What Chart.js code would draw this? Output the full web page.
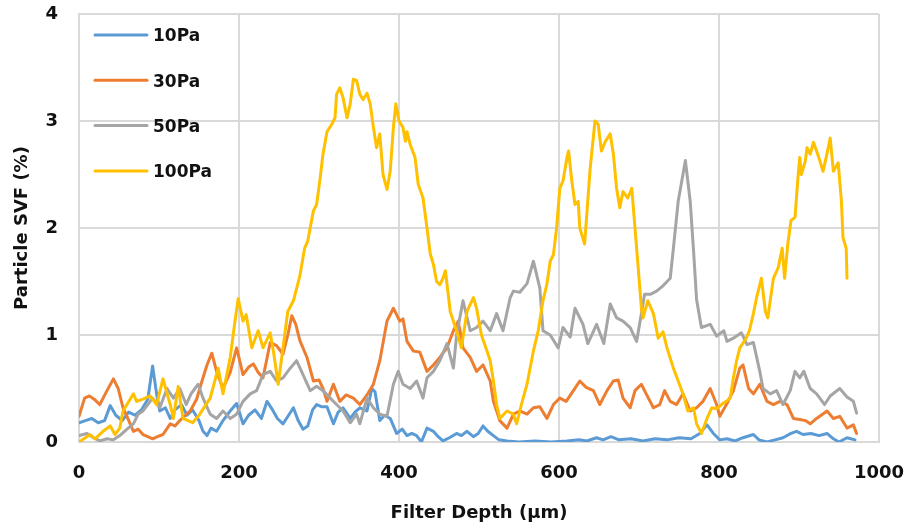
<!DOCTYPE html>
<html><head><meta charset="utf-8">
<script src="https://cdn.jsdelivr.net/npm/chart.js@4"></script>
<style>html,body{margin:0;padding:0;background:#fff;overflow:hidden}#wrap{width:908px;height:529px}</style>
</head><body><div id="wrap"><canvas id="c" width="908" height="529"></canvas></div>
<script>
const xTickStep = 200;
const yTickStep = 1;
const seriesNames = ['10Pa', '30Pa', '50Pa', '100Pa'];
const seriesColors = ['#5B9BD5', '#ED7D31', '#A5A5A5', '#FFC000'];

const depth10 = [0,8,16,24,32,39,46,54,62,70,78,86,92,97,101,108,114,120,128,135,142,150,155,160,165,172,180,190,197,205,212,220,228,235,242,248,255,262,268,274,280,286,292,297,303,310,318,324,330,339,345,351,360,366,370,376,382,389,397,404,410,416,422,428,435,443,449,455,463,472,478,485,493,499,505,511,518,525,535,550,570,590,610,625,635,647,655,665,675,690,705,720,735,750,765,776,785,793,801,810,820,830,843,850,860,870,880,890,897,905,915,925,935,943,950,960,970];
const svf10 = [0.18,0.2,0.22,0.18,0.2,0.34,0.25,0.2,0.28,0.25,0.3,0.4,0.71,0.45,0.29,0.32,0.22,0.3,0.35,0.25,0.3,0.2,0.1,0.06,0.13,0.1,0.2,0.3,0.36,0.17,0.25,0.3,0.22,0.38,0.3,0.22,0.17,0.25,0.32,0.2,0.12,0.15,0.3,0.35,0.33,0.33,0.17,0.28,0.32,0.22,0.28,0.32,0.29,0.5,0.47,0.2,0.25,0.22,0.08,0.12,0.06,0.08,0.06,0.0,0.13,0.1,0.05,0.01,0.04,0.08,0.06,0.1,0.05,0.08,0.15,0.1,0.06,0.02,0.01,0.0,0.01,0.0,0.01,0.02,0.01,0.04,0.02,0.05,0.02,0.03,0.01,0.03,0.02,0.04,0.03,0.08,0.16,0.08,0.02,0.03,0.01,0.04,0.07,0.02,0.0,0.02,0.04,0.08,0.1,0.07,0.08,0.06,0.08,0.03,0.0,0.04,0.02];

const depth30 = [0,7,13,19,26,35,43,49,55,61,68,74,80,86,92,98,105,114,120,126,133,139,147,155,160,166,172,180,189,197,205,212,218,224,230,239,247,255,261,266,271,276,285,293,300,305,310,318,326,334,343,351,360,368,376,385,393,401,405,410,418,426,435,443,451,460,468,474,480,489,497,505,514,518,526,535,543,551,560,568,576,585,593,601,609,618,626,634,643,651,660,668,674,680,689,695,703,709,718,726,732,739,747,755,764,772,780,789,797,801,810,818,826,830,837,843,851,860,868,876,885,893,901,908,914,922,935,943,951,960,968,972];
const svf30 = [0.24,0.41,0.43,0.4,0.35,0.48,0.59,0.5,0.32,0.22,0.1,0.12,0.07,0.05,0.03,0.05,0.07,0.17,0.15,0.2,0.25,0.29,0.4,0.6,0.72,0.83,0.66,0.5,0.65,0.88,0.63,0.7,0.73,0.65,0.6,0.93,0.9,0.82,1.0,1.18,1.1,0.95,0.79,0.57,0.58,0.5,0.38,0.54,0.38,0.44,0.41,0.35,0.44,0.54,0.76,1.13,1.25,1.13,1.15,0.94,0.85,0.84,0.66,0.72,0.79,0.88,1.04,1.13,0.88,0.79,0.66,0.72,0.57,0.38,0.2,0.13,0.26,0.29,0.26,0.32,0.33,0.22,0.35,0.41,0.38,0.48,0.57,0.51,0.48,0.35,0.48,0.57,0.58,0.41,0.32,0.48,0.54,0.45,0.32,0.35,0.48,0.38,0.35,0.45,0.29,0.32,0.38,0.5,0.35,0.24,0.36,0.48,0.69,0.72,0.5,0.45,0.54,0.38,0.35,0.38,0.35,0.22,0.21,0.2,0.17,0.22,0.29,0.22,0.24,0.13,0.16,0.08];

const depth50 = [0,10,18,26,35,43,51,60,68,74,80,86,92,101,110,118,126,134,140,145,149,155,164,172,180,189,197,205,214,222,230,239,247,255,264,272,280,289,297,305,314,322,330,339,347,351,360,368,376,385,393,399,405,414,422,430,435,443,451,460,468,472,480,489,497,505,514,522,530,539,543,551,560,568,576,580,589,599,605,614,620,630,636,647,656,664,672,680,689,697,703,707,714,722,730,739,743,749,758,764,768,772,778,789,797,806,810,818,828,835,843,851,855,864,872,880,889,895,901,906,914,922,932,939,951,960,968,972];
const svf50 = [0.06,0.08,0.04,0.01,0.03,0.02,0.06,0.12,0.17,0.26,0.29,0.35,0.41,0.32,0.5,0.41,0.5,0.35,0.45,0.5,0.54,0.41,0.26,0.22,0.29,0.22,0.26,0.38,0.45,0.48,0.63,0.66,0.57,0.6,0.69,0.76,0.63,0.48,0.52,0.48,0.41,0.35,0.29,0.18,0.26,0.17,0.41,0.32,0.26,0.24,0.54,0.66,0.54,0.5,0.57,0.41,0.6,0.66,0.76,0.92,0.69,1.0,1.32,1.04,1.07,1.13,1.04,1.2,1.04,1.35,1.41,1.4,1.48,1.69,1.44,1.04,1.0,0.88,1.07,0.98,1.25,1.1,0.92,1.1,0.92,1.29,1.16,1.13,1.07,0.94,1.2,1.38,1.38,1.41,1.46,1.53,1.81,2.25,2.63,2.25,1.81,1.33,1.07,1.1,0.99,1.04,0.94,0.97,1.02,0.91,0.93,0.66,0.5,0.45,0.48,0.35,0.48,0.66,0.6,0.66,0.5,0.45,0.35,0.43,0.5,0.42,0.38,0.27];

const depth100 = [0,8,14,20,30,39,45,51,55,60,68,72,80,89,97,105,114,118,124,130,142,151,164,174,180,189,195,199,205,209,216,224,230,239,243,249,255,261,268,276,282,286,293,297,301,305,310,316,320,322,326,330,335,339,343,347,351,355,360,364,368,372,376,380,385,389,393,396,400,405,408,410,414,420,424,430,435,439,443,447,451,455,458,462,464,472,478,485,493,497,503,510,514,518,522,526,535,543,547,553,560,568,574,580,585,589,593,597,601,605,610,612,616,620,624,626,632,639,645,649,653,658,664,668,672,676,680,686,691,695,699,703,705,711,718,724,730,735,743,749,755,761,768,772,778,785,791,797,803,809,814,818,822,826,834,838,843,847,853,858,861,868,874,879,882,886,890,895,899,901,903,908,910,914,918,922,926,930,934,939,943,949,953,955,959,960];
const svf100 = [0.0,0.04,0.07,0.03,0.1,0.15,0.07,0.13,0.29,0.35,0.45,0.38,0.4,0.43,0.35,0.59,0.35,0.22,0.52,0.22,0.18,0.26,0.41,0.69,0.45,0.79,1.13,1.34,1.13,1.19,0.88,1.04,0.88,1.02,0.85,0.54,0.88,1.22,1.32,1.55,1.81,1.88,2.16,2.22,2.44,2.69,2.9,2.97,3.03,3.25,3.31,3.22,3.03,3.16,3.39,3.38,3.25,3.2,3.26,3.16,2.94,2.75,2.88,2.5,2.36,2.53,2.94,3.16,3.0,2.94,2.81,2.9,2.78,2.66,2.41,2.28,2.0,1.76,1.66,1.5,1.47,1.53,1.6,1.35,1.22,1.04,0.88,1.22,1.35,1.25,1.0,0.85,0.76,0.57,0.35,0.22,0.29,0.26,0.17,0.35,0.54,0.85,1.04,1.32,1.48,1.69,1.75,2.0,2.37,2.44,2.66,2.72,2.44,2.22,2.25,2.0,1.85,2.56,3.0,2.97,2.72,2.81,2.88,2.69,2.37,2.19,2.34,2.28,2.37,2.0,1.63,1.25,1.16,1.32,1.2,0.97,1.03,0.88,0.69,0.57,0.45,0.29,0.32,0.17,0.08,0.22,0.32,0.31,0.35,0.38,0.41,0.6,0.76,0.88,0.97,1.04,1.2,1.35,1.53,1.22,1.16,1.53,1.63,1.81,1.53,1.85,2.07,2.1,2.5,2.66,2.5,2.63,2.75,2.69,2.8,2.72,2.63,2.53,2.66,2.84,2.53,2.61,2.25,1.91,1.81,1.53];

const allDepths = [depth10, depth30, depth50, depth100];
const allSvf = [svf10, svf30, svf50, svf100];

const datasets = seriesNames.map((name, i) => ({
  label: name,
  data: allDepths[i].map((d, k) => ({ x: d, y: allSvf[i][k] })),
  borderColor: seriesColors[i],
  backgroundColor: seriesColors[i],
  borderWidth: 3,
  pointRadius: 0,
  tension: 0,
  fill: false,
  borderJoinStyle: 'round',
  borderCapStyle: 'round',
  order: seriesNames.length - 1 - i
}));

const FONT = 'DejaVu Sans';
const TXT = '#111';

const insideLegend = {
  id: 'insideLegend',
  afterDraw(chart) {
    const ctx = chart.ctx;
    const a = chart.chartArea;
    ctx.save();
    ctx.font = 'bold 17px "' + FONT + '"';
    ctx.textBaseline = 'middle';
    ctx.textAlign = 'left';
    seriesNames.forEach((name, i) => {
      const y = a.top + 21 + i * 45.3;
      ctx.strokeStyle = seriesColors[i];
      ctx.lineWidth = 3;
      ctx.lineCap = 'round';
      ctx.beginPath();
      ctx.moveTo(a.left + 16, y);
      ctx.lineTo(a.left + 68, y);
      ctx.stroke();
      ctx.fillStyle = TXT;
      ctx.fillText(name, a.left + 74, y + 2);
    });
    ctx.restore();
  }
};

new Chart(document.getElementById('c'), {
  type: 'line',
  data: { datasets },
  plugins: [insideLegend],
  options: {
    responsive: false,
    animation: false,
    devicePixelRatio: 1,
    layout: { padding: { top: 14, right: 29, left: 0, bottom: 0 } },
    plugins: { legend: { display: false }, tooltip: { enabled: false } },
    scales: {
      x: {
        type: 'linear', min: 0, max: 1000,
        ticks: { stepSize: xTickStep, padding: 3, color: TXT, font: { family: FONT, size: 18, weight: 'bold' },
                 callback: v => String(v) },
        grid: { color: '#D9D9D9', lineWidth: 2, drawTicks: true, tickLength: 18, tickColor: 'rgba(0,0,0,0)' },
        border: { display: true, color: '#D9D9D9', width: 2 },
        title: { display: true, text: 'Filter Depth (µm)', color: TXT, font: { family: FONT, size: 18, weight: 'bold' }, padding: { top: 0, bottom: 5 } },
        afterFit(s) { s.height = 87; }
      },
      y: {
        min: 0, max: 4,
        ticks: { stepSize: yTickStep, padding: 3, color: TXT, font: { family: FONT, size: 18, weight: 'bold' } },
        grid: { color: '#D9D9D9', lineWidth: 2, drawTicks: true, tickLength: 18, tickColor: 'rgba(0,0,0,0)' },
        border: { display: true, color: '#D9D9D9', width: 2 },
        title: { display: true, text: 'Particle SVF (%)', color: TXT, font: { family: FONT, size: 18, weight: 'bold' }, padding: { top: 12, bottom: 0 } },
        afterFit(s) { s.width = 79; }
      }
    }
  }
});
</script>
</body></html>
